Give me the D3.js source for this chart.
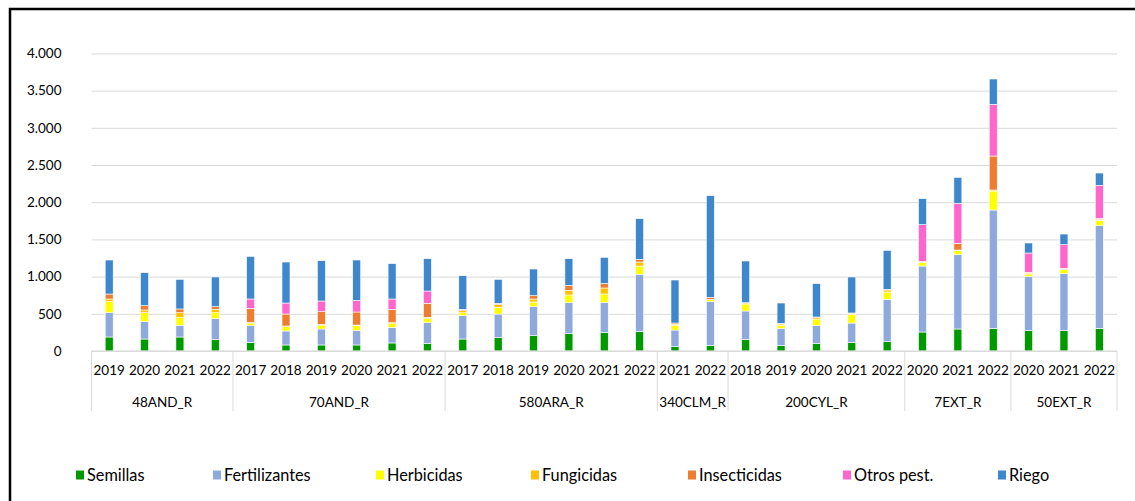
<!DOCTYPE html>
<html><head><meta charset="utf-8">
<script src="https://cdn.jsdelivr.net/npm/d3@7"></script>
<style>
html,body{margin:0;padding:0;background:#fff;}
svg{display:block;font-family:Lato,"Open Sans",sans-serif;}
</style></head>
<body>
<svg id="c" width="1135" height="501"></svg>
<script>
const groups = ["48AND_R","70AND_R","580ARA_R","340CLM_R","200CYL_R","7EXT_R","50EXT_R"];
const groupYears = [
  ["2019","2020","2021","2022"],
  ["2017","2018","2019","2020","2021","2022"],
  ["2017","2018","2019","2020","2021","2022"],
  ["2021","2022"],
  ["2018","2019","2020","2021","2022"],
  ["2020","2021","2022"],
  ["2020","2021","2022"]
];
const seriesNames = ["Semillas","Fertilizantes","Herbicidas","Fungicidas","Insecticidas","Otros pest.","Riego"];
const seriesColors = ["#009a00","#8eaadc","#ffff00","#ffc000","#ed7d31","#ff66cc","#3e87cc"];
const semillas      = [188,161,188,152, 112,81,81,81,108,99, 161,179,206,233,246,264, 58,76, 157,76,99,116,125, 255,296,305, 273,273,305];
const fertilizantes = [327,233,157,283, 228,188,215,197,210,282, 314,318,390,417,408,766, 224,587, 381,224,241,260,569, 887,999,1590, 726,766,1379];
const herbicidas    = [148,121,103,80, 36,58,53,62,49,54, 40,90,63,103,112,112, 63,27, 94,45,90,117,99, 45,53,255, 36,59,72];
const fungicidas    = [36,36,67,45, 9,9,9,9,14,17, 27,36,40,62,81,54, 13,4, 13,18,18,13,27, 9,9,14, 13,9,14];
const insecticidas  = [67,58,50,36, 188,161,171,175,179,189, 18,18,45,68,62,36, 18,27, 4,9,9,5,9, 9,90,457, 9,4,13];
const otrosPest     = [0,0,0,0, 126,148,143,157,139,165, 0,0,0,0,0,0, 0,0, 0,0,0,0,0, 493,538,694, 260,318,443];
const riego         = [457,444,398,399, 573,551,542,542,475,435, 452,322,358,358,350,547, 578,1367, 561,273,448,484,524, 349,349,341, 135,143,166];
const yTicks = [0,500,1000,1500,2000,2500,3000,3500,4000];

const seriesValues = [semillas,fertilizantes,herbicidas,fungicidas,insecticidas,otrosPest,riego];
const cats = [];
groups.forEach((g,gi)=>groupYears[gi].forEach(y=>cats.push({key:g+"|"+y,group:g,year:y})));
const rows = cats.map((c,i)=>{const r={key:c.key};seriesNames.forEach((s,si)=>r[s]=seriesValues[si][i]);return r;});

const svg = d3.select("#c");
const L=91.5, R=1117, T=53.4, B=351;
const x = d3.scaleBand().domain(cats.map(c=>c.key)).range([L,R]).paddingInner(0).paddingOuter(0);
const y = d3.scaleLinear().domain([0,4000]).range([B,T]);
const fmt = v => d3.format(",")(v).replace(/,/g,".");

// frame
svg.append("rect").attr("x",10).attr("y",9).attr("width",1140).attr("height",510)
  .attr("fill","none").attr("stroke","#000").attr("stroke-width",2.5);

// grid + y labels
const ya = svg.append("g").attr("transform",`translate(${L},0)`)
  .call(d3.axisLeft(y).tickValues(yTicks).tickSize(-(R-L)).tickFormat(fmt).tickPadding(30));
ya.select(".domain").remove();
ya.selectAll(".tick line").attr("stroke","#d9d9d9").attr("stroke-width",1);
ya.selectAll(".tick text").attr("fill","#000").style("font-size","13.5px").style("font-family","Lato, sans-serif");

// stacked bars
const stack = d3.stack().keys(seriesNames)(rows);
const bw = 8;
svg.append("g").selectAll("g").data(stack).join("g")
  .attr("fill",(d,i)=>seriesColors[i])
  .selectAll("rect").data(d=>d).join("rect")
  .attr("x",d=>x(d.data.key)+x.bandwidth()/2-bw/2)
  .attr("width",bw)
  .attr("y",d=>y(d[1]))
  .attr("height",d=>Math.max(0,y(d[0])-y(d[1])))
  .attr("stroke","#fff").attr("stroke-width",0.6);

// category axis
const ax = svg.append("g");
ax.append("line").attr("x1",L).attr("x2",R).attr("y1",B).attr("y2",B).attr("stroke","#d9d9d9");
ax.selectAll("text.yr").data(cats).join("text").attr("class","yr")
  .attr("x",d=>x(d.key)+x.bandwidth()/2).attr("y",370).attr("dy","0.35em")
  .attr("text-anchor","middle").style("font-size","13.5px").text(d=>d.year);
// group boundaries
const bounds=[]; let idx=0;
groups.forEach((g,gi)=>{const first=cats[idx].key;idx+=groupYears[gi].length;const last=cats[idx-1].key;
  bounds.push({g,x0:x(first),x1:x(last)+x.bandwidth()});});
const sepX = [L].concat(bounds.map(b=>b.x1));
ax.selectAll("line.sep").data(sepX).join("line").attr("class","sep")
  .attr("x1",d=>d).attr("x2",d=>d).attr("y1",B).attr("y2",411).attr("stroke","#d9d9d9");
ax.selectAll("text.grp").data(bounds).join("text").attr("class","grp")
  .attr("x",d=>(d.x0+d.x1)/2).attr("y",402).attr("dy","0.35em")
  .attr("text-anchor","middle").style("font-size","13.5px").text(d=>d.g);

// legend
const legX = [76,213,376,531,688,843,998];
const lg = svg.append("g").selectAll("g").data(seriesNames).join("g")
  .attr("transform",(d,i)=>`translate(${legX[i]},475)`);
lg.append("rect").attr("x",0).attr("y",-4.5).attr("width",8).attr("height",9).attr("fill",(d,i)=>seriesColors[i]);
lg.append("text").attr("x",11).attr("y",0).attr("dy","0.35em").style("font-size","16.3px").text(d=>d);
</script>
</body></html>
